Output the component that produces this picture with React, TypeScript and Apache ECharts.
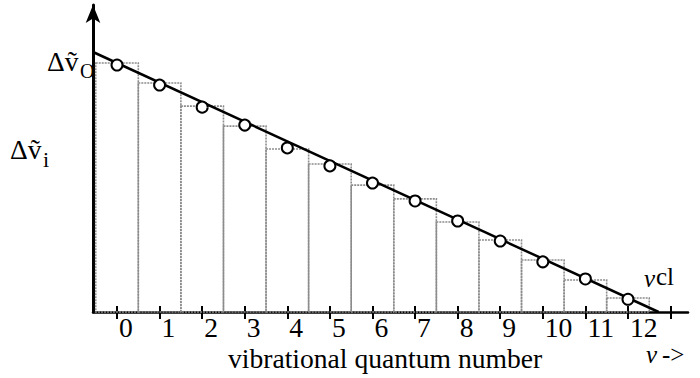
import React, { useEffect, useRef } from "react";
import * as echarts from "echarts";

// Vibrational levels v = 0..12
const levels = [0, 1, 2, 3, 4, 5, 6, 7, 8, 9, 10, 11, 12];
// Level spacings Δṽ_i drawn as steps (bar tops)
const spacingBars = [95.8, 88.1, 79.2, 71.5, 62.7, 56.9, 48.8, 43.5, 34.6, 27.7, 20.0, 12.3, 5.4];
// Measured spacings (open circles)
const spacingPoints = [95.0, 87.3, 78.8, 71.9, 63.1, 56.2, 49.6, 42.7, 35.0, 27.3, 19.3, 12.7, 4.9];
// Linear extrapolation from Δṽ_0 down to the convergence limit v_cl
const fitLine = [
  [-0.564, 100],
  [12.72, 0],
];
const tickValues = [0, 1, 2, 3, 4, 5, 6, 7, 8, 9, 10, 11, 12, 13];
const labelValues = [0, 1, 2, 3, 4, 5, 6, 7, 8, 9, 10, 11, 12];

const SERIF = "Liberation Serif";

function label(left: number, top: number, text: string, fontSize: number, italic = false) {
  return {
    type: "text",
    left,
    top,
    style: {
      text,
      fontFamily: SERIF,
      fontSize,
      fontStyle: italic ? "italic" : "normal",
      fill: "#000",
    },
  };
}

export default function App() {
  const ref = useRef<HTMLDivElement>(null);

  useEffect(() => {
    if (!ref.current) return;
    const chart = echarts.init(ref.current, null, { renderer: "svg" });

    const xRange = { min: -0.564, max: 13.41 };

    chart.setOption({
      animation: false,
      backgroundColor: "#ffffff",
      grid: { left: 93, right: 12, top: 5, bottom: 66 },
      xAxis: [
        {
          type: "value",
          ...xRange,
          axisLine: { onZero: false, lineStyle: { color: "#000", width: 2.5 } },
          axisTick: {
            show: true,
            customValues: tickValues,
            length: 7,
            lineStyle: { color: "#000", width: 2 },
          },
          axisLabel: {
            customValues: labelValues,
            margin: 1,
            align: "left",
            padding: [0, 0, 0, 2],
            color: "#000",
            fontFamily: SERIF,
            fontSize: 27.6,
          },
          splitLine: { show: false },
        },
        {
          type: "value",
          ...xRange,
          position: "bottom",
          axisLine: { show: false, onZero: false },
          axisTick: {
            show: true,
            inside: true,
            customValues: tickValues,
            length: 6,
            lineStyle: { color: "#000", width: 2 },
          },
          axisLabel: { show: false },
          splitLine: { show: false },
        },
      ],
      yAxis: {
        type: "value",
        min: 0,
        max: 118.08,
        axisLine: {
          show: true,
          onZero: false,
          symbol: ["none", "arrow"],
          symbolSize: [11, 18],
          lineStyle: { color: "#000", width: 3 },
        },
        axisTick: { show: false },
        axisLabel: { show: false },
        splitLine: { show: false },
      },
      series: [
        {
          type: "custom",
          xAxisIndex: 0,
          z: 1,
          data: levels.map((v, i) => [v, spacingBars[i]]),
          renderItem: (params: any, api: any) => {
            const x = api.value(0);
            const h = api.value(1);
            const left = Math.max(x - 0.5, xRange.min);
            const p0 = api.coord([left, h]);
            const p1 = api.coord([x + 0.5, 0]);
            return {
              type: "rect",
              shape: { x: p0[0], y: p0[1], width: p1[0] - p0[0], height: p1[1] - p0[1] },
              style: { fill: "none", stroke: "#8c8c8c", lineWidth: 1.6, lineDash: [2, 1] },
            };
          },
        },
        {
          type: "line",
          xAxisIndex: 0,
          z: 3,
          data: fitLine,
          symbol: "none",
          lineStyle: { color: "#000", width: 2.5 },
        },
        {
          type: "scatter",
          xAxisIndex: 0,
          z: 4,
          data: levels.map((v, i) => [v, spacingPoints[i]]),
          symbol: "circle",
          symbolSize: 11,
          itemStyle: { color: "#fff", borderColor: "#000", borderWidth: 2, opacity: 1 },
        },
      ],
      graphic: [
        label(47, 47, "Δṽ", 27.6),
        label(80, 61, "O", 20),
        label(10, 135, "Δṽ", 27.6),
        label(43, 148, "i", 22),
        label(644, 266, "v", 25, true),
        label(656, 264, "cl", 25),
        label(228, 344, "vibrational quantum number", 27.6),
        label(646, 342, "v", 25, true),
        label(662, 342, "->", 25),
      ],
    });

    return () => chart.dispose();
  }, []);

  return <div ref={ref} style={{ width: 700, height: 378, position: "absolute", left: 0, top: 0 }} />;
}
